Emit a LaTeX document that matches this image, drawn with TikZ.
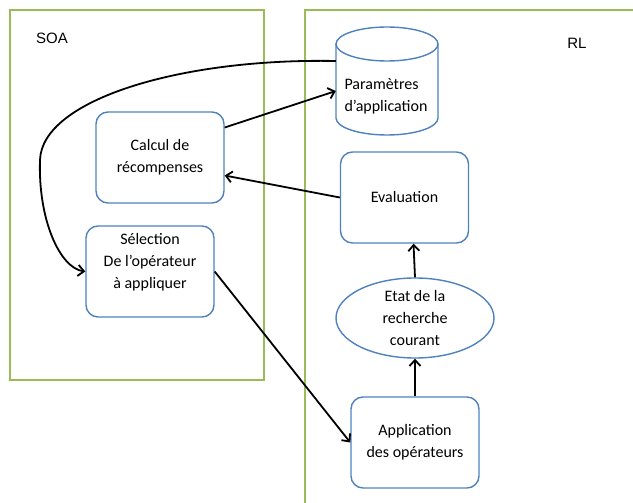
\documentclass[tikz,border=0pt]{standalone}
\usepackage{fontspec}
\setmainfont{Carlito}
\newfontfamily\labelfont{Liberation Sans}
\usetikzlibrary{calc, shapes.geometric, arrows.meta}
\definecolor{ZoneGreen}{HTML}{9BBB59}
\definecolor{BoxBlue}{HTML}{4F81BD}
\tikzset{
    zone/.style={draw=ZoneGreen, line width=1.5pt},
    outline/.style={draw=BoxBlue, line width=1.4pt},
    procbox/.style={outline, rounded corners=12pt,
        minimum width=128pt, minimum height=91pt, inner sep=0pt},
    boxtext/.style={align=center, font=\fontsize{16}{22}\selectfont, inner sep=0pt},
    flow/.style={line width=1.8pt, -{Straight Barb[length=6pt, width=11pt, line width=1.8pt]}},
}

\begin{document}
\begin{tikzpicture}[x=1pt, y=-1pt]
    \useasboundingbox (0,0) rectangle (633,503);

    % Zones SOA et RL
    \draw[zone] (10,10) rectangle (264,380);
    \draw[zone] (305,520) -- (305,10) -- (650,10);
    \node[font=\labelfont\fontsize{15}{18}\selectfont] (soa) at (52,38) {SOA};
    \node[font=\labelfont\fontsize{15}{18}\selectfont] (rl) at (577,43) {RL};

    % Base de parametres (cylindre)
    \node[minimum width=102pt, minimum height=108pt, inner sep=0pt] (param) at (387,81) {};
    \draw[outline] (387,44) ellipse [x radius=51, y radius=17];
    \draw[outline] (336,44) -- (336,118) arc [start angle=180, end angle=0, x radius=51, y radius=17] -- (438,44);
    \node[boxtext, align=left] (paramtext) at (386,96) {Paramètres\\d’application};

    % Boites
    \node[procbox, boxtext] (calcul) at (160,157.5) {Calcul de\\récompenses};
    \node[procbox, boxtext] (eval) at (404.5,197.5) {Evaluation};
    \node[procbox] (selection) at (150,271.5) {};
    \node[boxtext] (selectiontext) at (150,262) {Sélection\\De l’opérateur\\à appliquer};
    \node[outline, ellipse, minimum width=158pt, minimum height=80pt,
        inner sep=0pt, boxtext] (etat) at (415,318) {Etat de la\\recherche\\courant};
    \node[procbox, boxtext] (app) at (415,442.5) {Application\\des opérateurs};

    % Fleches
    \draw[flow] ($(calcul.east)+(0,-30)$) -- ($(param.west)+(0,10)$);
    \draw[flow] (eval.west) -- ($(calcul.east)+(0,18)$);
    \draw[flow] (etat.north) -- ($(eval.south)+(9,0)$);
    \draw[flow] (app.north) -- (etat.south);
    \draw[flow] (selection.east) -- (app.west);
    \draw[flow] ($(param.west)+(0,-20)$) .. controls (180,58) and (42,100) .. (40,160)
        .. controls (38,220) and (60,268) .. (selection.west);
\end{tikzpicture}
\end{document}
